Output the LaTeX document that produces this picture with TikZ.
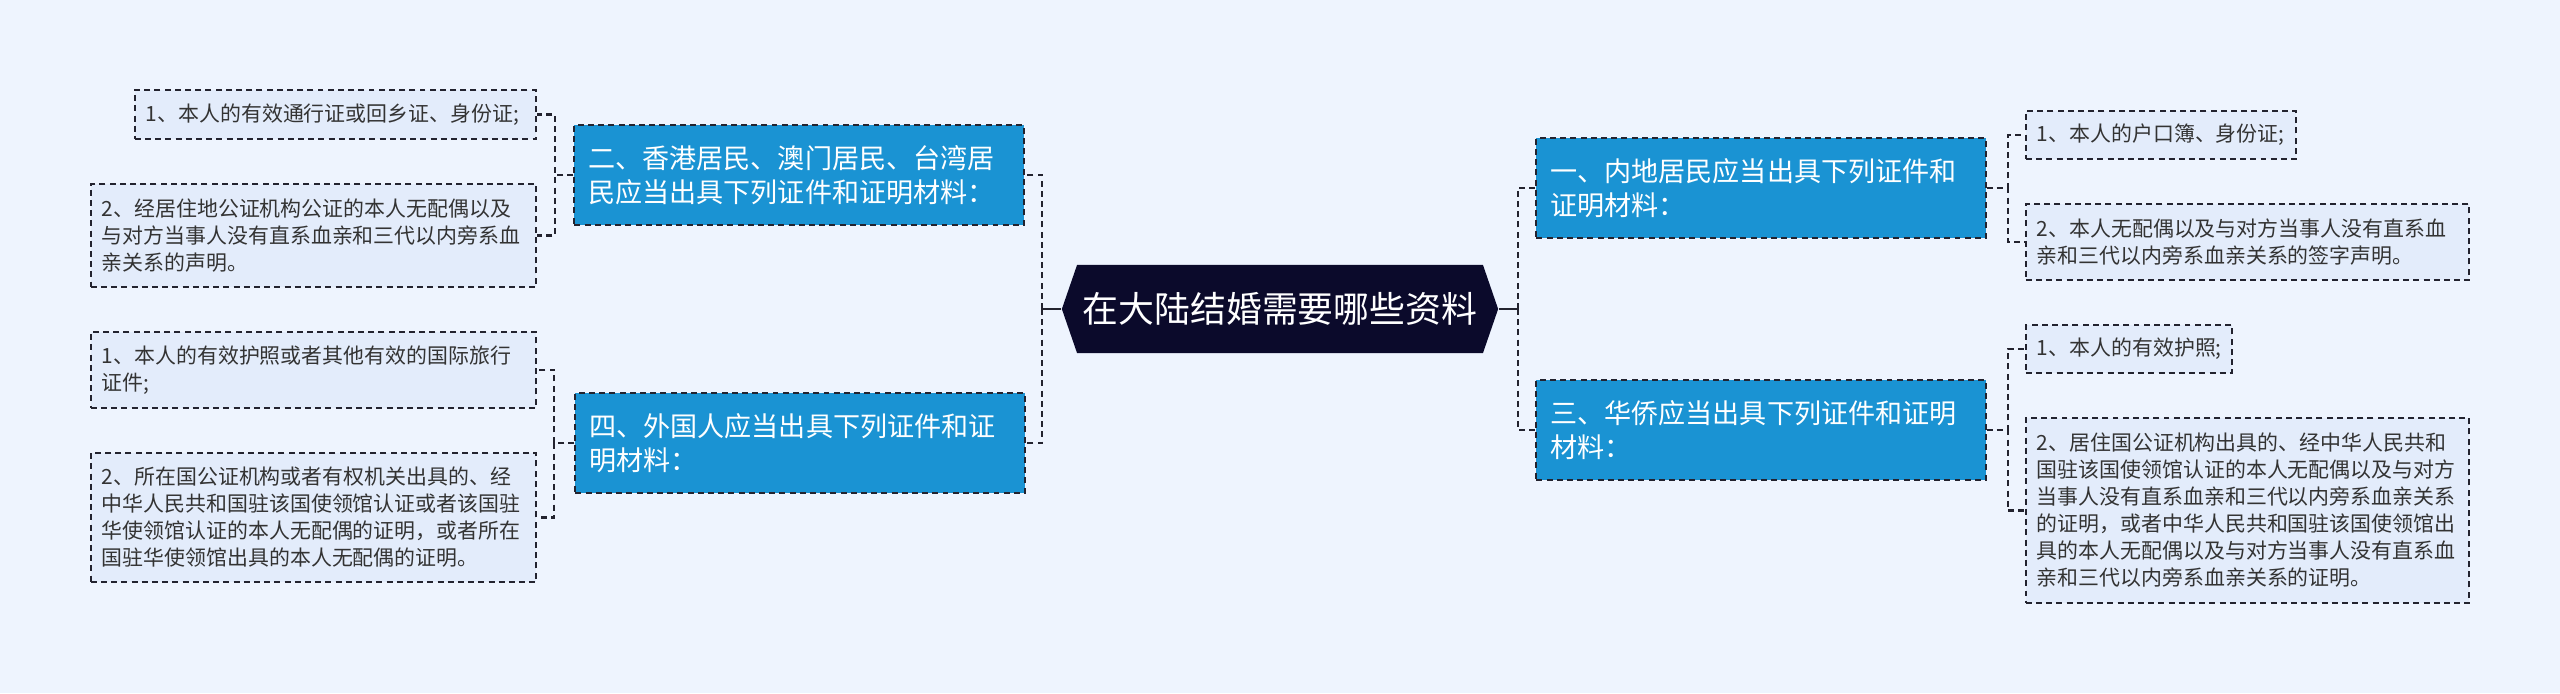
\documentclass[tikz,border=0pt]{standalone}
\usepackage{fontspec}
\newfontfamily\cjk{Noto Sans CJK SC}
\usetikzlibrary{shapes.symbols}
\definecolor{bgA}{HTML}{EEF4FE}
\definecolor{leafB}{HTML}{E3ECFB}
\definecolor{blueA}{HTML}{1A93D3}
\definecolor{navyA}{HTML}{0B0A2B}
\definecolor{grayA}{HTML}{23232F}
\definecolor{textA}{HTML}{333333}
\tikzset{
  rootbox/.style={
    shape=signal, signal to=west and east, signal pointer angle=142,
    fill=navyA, text=white, inner sep=0pt,
    minimum width=4.36cm, minimum height=0.88cm,
    font=\cjk\fontsize{10.2pt}{12pt}\selectfont
  },
  branchbox/.style={
    draw=grayA, fill=blueA, dash pattern=on 1.7pt off 1.2pt,
    line width=0.55pt, text=white, align=left,
    inner xsep=0.14cm, inner ysep=0pt, text width=4.21cm,
    minimum height=1.0cm, font=\cjk\fontsize{7.7pt}{9.6pt}\selectfont
  },
  leafbox/.style={
    draw=grayA, fill=leafB, dash pattern=on 1.7pt off 1.2pt,
    line width=0.5pt, text=textA, align=left,
    inner xsep=0.11cm, inner ysep=0pt,
    font=\cjk\fontsize{5.95pt}{7.68pt}\selectfont
  },
  trunk/.style={line width=0.6pt, draw=grayA},
  twig/.style={line width=0.6pt, draw=grayA, dash pattern=on 1.7pt off 1.2pt}
}

\begin{document}
\begin{tikzpicture}[x=0.01cm, y=-0.01cm]
  \fill[bgA] (0,0) rectangle (2560,693);
  \useasboundingbox (0,0) rectangle (2560,693);

  \node[rootbox] (root) at (1280,309) {在大陆结婚需要哪些资料};

  % left side
  \node[branchbox] (hk) at (799,175)
    {二、香港居民、澳门居民、台湾居\\民应当出具下列证件和证明材料：};
  \node[branchbox] (foreign) at (800,443)
    {四、外国人应当出具下列证件和证\\明材料：};
  \node[leafbox, text width=3.79cm, minimum height=0.49cm] (hkA) at (335.5,114.5)
    {1、本人的有效通行证或回乡证、身份证;};
  \node[leafbox, text width=4.23cm, minimum height=1.03cm] (hkB) at (313.5,235.5)
    {2、经居住地公证机构公证的本人无配偶以及\\与对方当事人没有直系血亲和三代以内旁系血\\亲关系的声明。};
  \node[leafbox, text width=4.23cm, minimum height=0.76cm] (foreignA) at (313.5,370)
    {1、本人的有效护照或者其他有效的国际旅行\\证件;};
  \node[leafbox, text width=4.23cm, minimum height=1.29cm] (foreignB) at (313.5,517.5)
    {2、所在国公证机构或者有权机关出具的、经\\中华人民共和国驻该国使领馆认证或者该国驻\\华使领馆认证的本人无配偶的证明，或者所在\\国驻华使领馆出具的本人无配偶的证明。};

  % right side
  \node[branchbox] (inland) at (1761,188)
    {一、内地居民应当出具下列证件和\\证明材料：};
  \node[branchbox] (overseas) at (1761,430)
    {三、华侨应当出具下列证件和证明\\材料：};
  \node[leafbox, text width=2.48cm, minimum height=0.48cm] (inlandA) at (2161,135)
    {1、本人的户口簿、身份证;};
  \node[leafbox, text width=4.21cm, minimum height=0.76cm] (inlandB) at (2247.5,242)
    {2、本人无配偶以及与对方当事人没有直系血\\亲和三代以内旁系血亲关系的签字声明。};
  \node[leafbox, text width=1.84cm, minimum height=0.48cm] (overseasA) at (2129,349)
    {1、本人的有效护照;};
  \node[leafbox, text width=4.21cm, minimum height=1.85cm] (overseasB) at (2247.5,510.5)
    {2、居住国公证机构出具的、经中华人民共和\\国驻该国使领馆认证的本人无配偶以及与对方\\当事人没有直系血亲和三代以内旁系血亲关系\\的证明，或者中华人民共和国驻该国使领馆出\\具的本人无配偶以及与对方当事人没有直系血\\亲和三代以内旁系血亲关系的证明。};

  \draw[trunk] (root.west) -- ++(-19,0) coordinate (lhub);
  \draw[trunk] (root.east) -- ++(19,0) coordinate (rhub);
  \draw[twig] (lhub) |- (hk.east);
  \draw[twig] (lhub) |- (foreign.east);
  \draw[twig] (rhub) |- (inland.west);
  \draw[twig] (rhub) |- (overseas.west);

  \draw[twig] (hk.west) -- ++(-18,0) |- (hkA.east);
  \draw[twig] (hk.west) -- ++(-18,0) |- (hkB.east);
  \draw[twig] (foreign.west) -- ++(-20,0) |- (foreignA.east);
  \draw[twig] (foreign.west) -- ++(-20,0) |- (foreignB.east);
  \draw[twig] (inland.east) -- ++(21,0) |- (inlandA.west);
  \draw[twig] (inland.east) -- ++(21,0) |- (inlandB.west);
  \draw[twig] (overseas.east) -- ++(21,0) |- (overseasA.west);
  \draw[twig] (overseas.east) -- ++(21,0) |- (overseasB.west);
\end{tikzpicture}
\end{document}
